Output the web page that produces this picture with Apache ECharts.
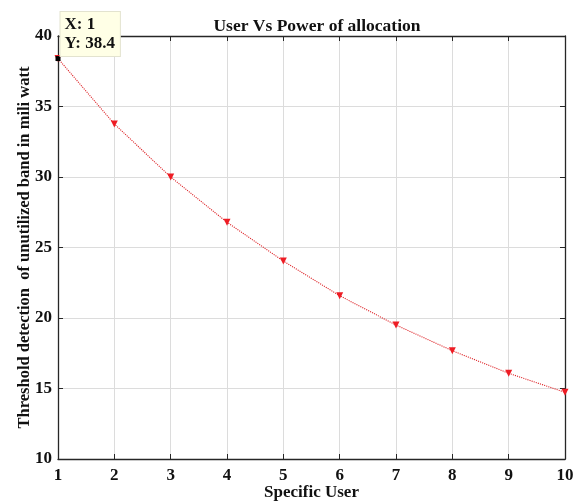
<!DOCTYPE html>
<html><head><meta charset="utf-8">
<script src="https://cdn.jsdelivr.net/npm/echarts@6/dist/echarts.min.js"></script>
<style>html,body{margin:0;padding:0;background:#fff}#c{width:576px;height:502px}</style>
</head><body><div id="c"></div>
<script>
var users = [1,2,3,4,5,6,7,8,9,10];
var threshold = [38.4, 33.76, 30.0, 26.79, 24.04, 21.58, 19.5, 17.68, 16.08, 14.73];
var yTicks = [10,15,20,25,30,35,40];
var titleText = 'User Vs Power of allocation';
var xName = 'Specific User';
var yName = 'Threshold detection  of unutilized band in mili watt';
var tipX = users[0], tipY = threshold[0];

var font = 'Liberation Serif';
var chart = echarts.init(document.getElementById('c'));
var axisLine = {show:true, lineStyle:{color:'#262626', width:1.3}};
var grid = {show:true, lineStyle:{color:'#dcdcdc', width:1}};
chart.setOption({
  animation:false,
  title:{text:titleText, left:312, top:12, textAlign:'center',
    textStyle:{fontFamily:font, fontWeight:'bold', fontSize:17.5, color:'#111'}},
  grid:{left:58, right:11, top:36, bottom:43, containLabel:false, outerBoundsMode:'none'},
  xAxis:[{type:'value', min:1, max:10, interval:1, name:xName, nameLocation:'middle', nameGap:25,
     nameMoveOverlap:false,
     nameTextStyle:{fontFamily:font, fontWeight:'bold', fontSize:17, color:'#111'},
     axisLine:axisLine, axisTick:{show:true, inside:true, length:5, lineStyle:{color:'#262626'}},
     axisLabel:{fontFamily:font, fontWeight:'bold', fontSize:17, color:'#111', margin:8},
     splitLine:grid},
    {type:'value', position:'top', min:1, max:10, interval:1,
     axisLine:axisLine, axisTick:{show:true, inside:true, length:5, lineStyle:{color:'#262626'}},
     axisLabel:{show:false}, splitLine:{show:false}}],
  yAxis:[{type:'value', min:yTicks[0], max:yTicks[yTicks.length-1], interval:5, name:yName,
     nameLocation:'middle', nameGap:25, nameMoveOverlap:false,
     nameTextStyle:{fontFamily:font, fontWeight:'bold', fontSize:16.5, color:'#111'},
     axisLine:axisLine, axisTick:{show:true, inside:true, length:5, lineStyle:{color:'#262626'}},
     axisLabel:{fontFamily:font, fontWeight:'bold', fontSize:17, color:'#111', margin:6},
     splitLine:grid},
    {type:'value', position:'right', min:yTicks[0], max:yTicks[yTicks.length-1], interval:5,
     axisLine:axisLine, axisTick:{show:true, inside:true, length:5, lineStyle:{color:'#262626'}},
     axisLabel:{show:false}, splitLine:{show:false}}],
  series:[{type:'line', data:users.map(function(u,i){return [u, threshold[i]];}),
    lineStyle:{color:'#dd2226', width:1.1, type:'dotted'},
    symbol:'triangle', symbolRotate:180, symbolSize:7, showAllSymbol:true,
    itemStyle:{color:'#ee1c24'},
    markPoint:{data:[{coord:[tipX, tipY], value:tipY}],
      symbol:'rect', symbolSize:5, itemStyle:{color:'#000'},
      label:{show:true, position:[5,-44], formatter:'X: '+tipX+'\nY: '+tipY,
        fontFamily:font, fontWeight:'bold', fontSize:17, color:'#111', lineHeight:19,
        backgroundColor:'#ffffe6', borderColor:'#e3e3cf', borderWidth:1, padding:[3,5,3,4]}}
  }]
});
</script></body></html>
